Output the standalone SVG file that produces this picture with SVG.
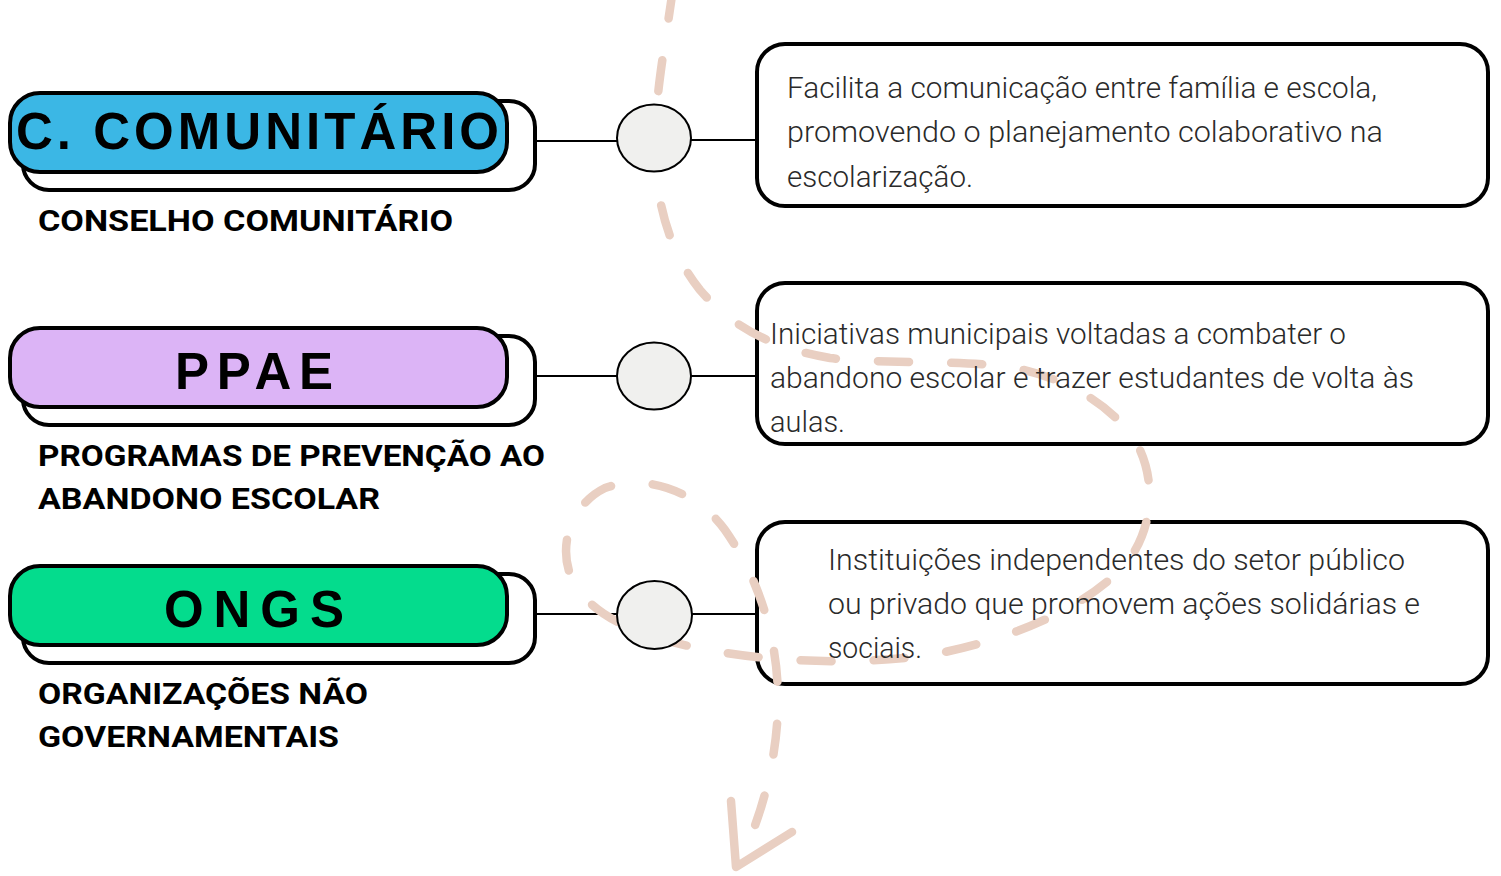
<svg xmlns="http://www.w3.org/2000/svg" width="1501" height="876" viewBox="0 0 1501 876">
<style>
.back{fill:#ffffff;stroke:#000;stroke-width:4}
.front{stroke:#000;stroke-width:4}
.head{font-family:"Liberation Sans",Arial,sans-serif;font-weight:700;font-size:51px;fill:#000}
.sub{font-family:Roboto,"Liberation Sans",sans-serif;font-weight:700;font-size:30px;fill:#000}
.box{fill:#ffffff;stroke:#000;stroke-width:4}
.body{font-family:Roboto,"Liberation Sans",sans-serif;font-weight:300;font-size:30px;fill:#2a2a2a}
.conn{stroke:#000;stroke-width:2;fill:none}
.dot{fill:#f0f0ee;stroke:#000;stroke-width:2}
.dash{fill:none;stroke:#e9cfc2;stroke-width:8.5;stroke-linecap:round;stroke-dasharray:31 42}
.arrow{fill:none;stroke:#e9cfc2;stroke-width:8.5;stroke-linecap:round;stroke-linejoin:round}
</style>
<rect width="1501" height="876" fill="#ffffff"/>

<g id="node-comunitario">
<rect class="back" x="23" y="101" width="512" height="89" rx="26"/>
<rect class="front" x="10" y="93" width="497" height="79" rx="30" fill="#3bb7e5"/>
<text class="head" x="16" y="149" textLength="483" lengthAdjust="spacing">C. COMUNITÁRIO</text>
<text class="sub" x="38" y="231" textLength="415" lengthAdjust="spacingAndGlyphs">CONSELHO COMUNITÁRIO</text>
</g>

<g id="node-ppae">
<rect class="back" x="23" y="336" width="512" height="89" rx="26"/>
<rect class="front" x="10" y="328" width="497" height="79" rx="30" fill="#dcb4f6"/>
<text class="head" x="175" y="389" textLength="158" lengthAdjust="spacing">PPAE</text>
<text class="sub" x="38" y="466" textLength="507" lengthAdjust="spacingAndGlyphs">PROGRAMAS DE PREVENÇÃO AO</text>
<text class="sub" x="38" y="509" textLength="342" lengthAdjust="spacingAndGlyphs">ABANDONO ESCOLAR</text>
</g>

<g id="node-ongs">
<rect class="back" x="23" y="574" width="512" height="89" rx="26"/>
<rect class="front" x="10" y="566" width="497" height="79" rx="30" fill="#04dc8d"/>
<text class="head" x="164" y="627" textLength="180" lengthAdjust="spacing">ONGS</text>
<text class="sub" x="38" y="704" textLength="330" lengthAdjust="spacingAndGlyphs">ORGANIZAÇÕES NÃO</text>
<text class="sub" x="38" y="747" textLength="301" lengthAdjust="spacingAndGlyphs">GOVERNAMENTAIS</text>
</g>

<g id="box-a">
<rect class="box" x="757" y="44" width="731" height="162" rx="28"/>
</g>
<g id="box-b">
<rect class="box" x="757" y="283" width="731" height="161" rx="28"/>
</g>
<g id="box-c">
<rect class="box" x="757" y="522" width="731" height="162" rx="28"/>
</g>

<g id="connectors">
<line class="conn" x1="535" y1="141" x2="617" y2="141"/>
<line class="conn" x1="691" y1="140" x2="757" y2="140"/>
<line class="conn" x1="535" y1="376" x2="617" y2="376"/>
<line class="conn" x1="691" y1="376" x2="757" y2="376"/>
<line class="conn" x1="535" y1="614" x2="617" y2="614"/>
<line class="conn" x1="691" y1="614" x2="757" y2="614"/>
<path class="dash" d="M 673,-12 C 666,40 654,100 655,150 C 656,200 668,250 700,290 C 730,325 770,348 830,358 C 880,364 960,360 1010,367 C 1070,378 1120,410 1140,450 C 1158,490 1150,540 1120,570 C 1080,610 1010,640 930,655 C 860,665 780,662 720,652 C 660,642 600,625 575,585 C 555,550 570,505 605,488 C 650,472 700,495 725,530 C 760,580 778,640 778,700 C 778,760 760,820 742,856"/>
<path class="arrow" d="M 731,801 L 736,867 L 792,832"/>
</g>

<g id="dot-1"><ellipse class="dot" cx="654" cy="138" rx="37" ry="33.5"/></g>
<g id="dot-2"><ellipse class="dot" cx="654" cy="376" rx="37" ry="33.5"/></g>
<g id="dot-3"><ellipse class="dot" cx="654.5" cy="615" rx="37.5" ry="34"/></g>

<g id="text-a">
<text class="body" x="787" y="98" textLength="590" lengthAdjust="spacingAndGlyphs">Facilita a comunicação entre família e escola,</text>
<text class="body" x="787" y="142" textLength="596" lengthAdjust="spacingAndGlyphs">promovendo o planejamento colaborativo na</text>
<text class="body" x="787" y="187" textLength="186" lengthAdjust="spacingAndGlyphs">escolarização.</text>
</g>
<g id="text-b">
<text class="body" x="770" y="344" textLength="576" lengthAdjust="spacingAndGlyphs">Iniciativas municipais voltadas a combater o</text>
<text class="body" x="770" y="388" textLength="644" lengthAdjust="spacingAndGlyphs">abandono escolar e trazer estudantes de volta às</text>
<text class="body" x="770" y="432" textLength="75" lengthAdjust="spacingAndGlyphs">aulas.</text>
</g>
<g id="text-c">
<text class="body" x="828" y="570" textLength="577" lengthAdjust="spacingAndGlyphs">Instituições independentes do setor público</text>
<text class="body" x="828" y="614" textLength="592" lengthAdjust="spacingAndGlyphs">ou privado que promovem ações solidárias e</text>
<text class="body" x="828" y="658" textLength="94" lengthAdjust="spacingAndGlyphs">sociais.</text>
</g>
</svg>
